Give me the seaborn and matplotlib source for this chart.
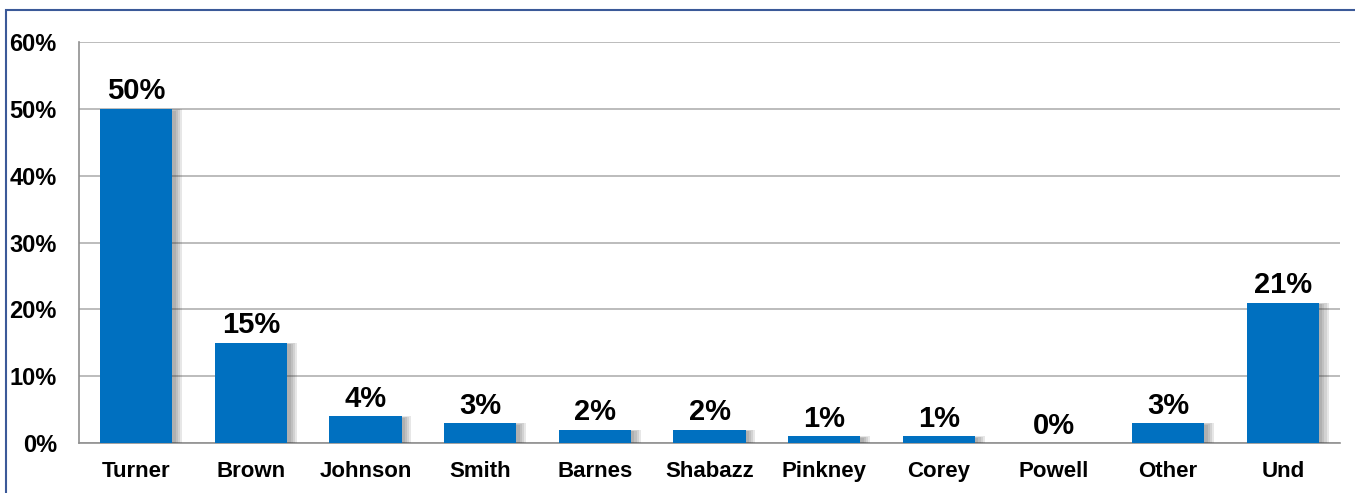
import numpy as np
import pandas as pd
import matplotlib
matplotlib.use("Agg")
import matplotlib.pyplot as plt
import matplotlib.patheffects as pe
from matplotlib.patches import Rectangle
from matplotlib.ticker import FixedLocator, PercentFormatter
import seaborn as sns

candidates = ["Turner", "Brown", "Johnson", "Smith", "Barnes", "Shabazz",
              "Pinkney", "Corey", "Powell", "Other", "Und"]
shares = [50, 15, 4, 3, 2, 2, 1, 1, 0, 3, 21]
y_ticks = [0, 10, 20, 30, 40, 50, 60]

sns.set_theme(style="white")
plt.rcParams["font.family"] = ["Liberation Sans", "DejaVu Sans"]

df = pd.DataFrame({"name": candidates, "share": shares})

fig = plt.figure(figsize=(13.55, 4.93), dpi=100)
ax = fig.add_axes([0.0583, 0.1014, 0.9307, 0.8134])

sns.barplot(data=df, x="name", y="share", color="#0070C0", saturation=1,
            width=0.63, linewidth=0, ax=ax, zorder=3)

# soft drop shadow, built from a few offset layers
shadow = [pe.SimplePatchShadow(offset=(d, d * 0.3 - 2), shadow_rgbFace="#404040", alpha=0.12)
          for d in (7, 5.5, 4, 2.5)]
for bar in ax.patches:
    if bar.get_height() > 0:
        bar.set_path_effects(shadow + [pe.Normal()])
    else:
        bar.set_visible(False)

for i, v in enumerate(shares):
    ax.text(i, v + 0.5, f"{v}%", ha="center", va="bottom",
            fontsize=21, fontweight="bold", color="black", zorder=4)

ax.set_ylim(0, 60)
ax.set_xlim(-0.5, len(candidates) - 0.5)
ax.set_yticks(y_ticks)
ax.yaxis.set_major_formatter(PercentFormatter(decimals=0))
ax.grid(axis="y", color="#b0b0b0", linewidth=1.2, zorder=0)
ax.set_axisbelow(True)

ax.set_xlabel("")
ax.set_ylabel("")
ax.xaxis.set_minor_locator(FixedLocator(np.arange(-0.5, len(candidates), 1.0)))
ax.tick_params(axis="x", which="major", length=0, pad=13, labelsize=16)
ax.tick_params(axis="x", which="minor", length=6, color="#909090", width=1.2, direction="out")
ax.tick_params(axis="y", length=7, color="#909090", width=1.2, direction="out", labelsize=17, pad=9)
for lbl in ax.get_xticklabels() + ax.get_yticklabels():
    lbl.set_fontweight("bold")
    lbl.set_color("black")

for side in ["top", "right"]:
    ax.spines[side].set_visible(False)
for side in ["left", "bottom"]:
    ax.spines[side].set_color("#909090")
    ax.spines[side].set_linewidth(1.2)

# outer frame
fig.patches.append(Rectangle((6 / 1355, -0.05), 1.1, 1 - 10 / 493 + 0.05,
                             transform=fig.transFigure, fill=False,
                             edgecolor="#3B5998", linewidth=1.5))

fig.savefig("out.png", dpi=100)
